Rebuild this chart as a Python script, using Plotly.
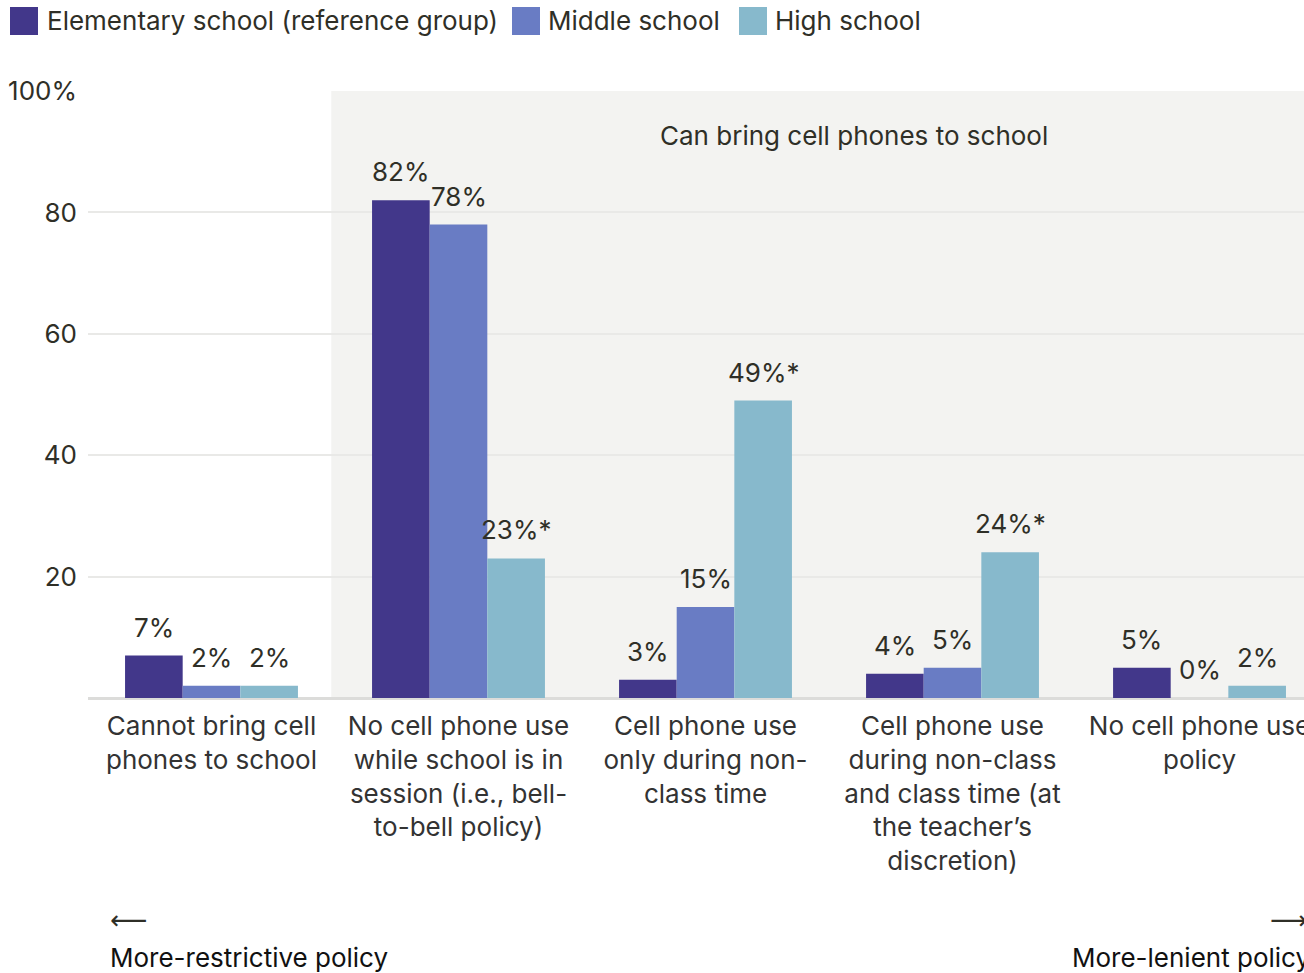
import plotly.graph_objects as go

categories = [
    "Cannot bring cell<br>phones to school",
    "No cell phone use<br>while school is in<br>session (i.e., bell-<br>to-bell policy)",
    "Cell phone use<br>only during non-<br>class time",
    "Cell phone use<br>during non-class<br>and class time (at<br>the teacher’s<br>discretion)",
    "No cell phone use<br>policy",
]
series_names = ["Elementary school (reference group)", "Middle school", "High school"]
elementary = [7, 82, 3, 4, 5]
middle = [2, 78, 15, 5, 0]
high = [2, 23, 49, 24, 2]
elementary_labels = ["7%", "82%", "3%", "4%", "5%"]
middle_labels = ["2%", "78%", "15%", "5%", "0%"]
high_labels = ["2%", "23%*", "49%*", "24%*", "2%"]
colors = ["#42378a", "#697cc4", "#87b9cc"]

FONT = "Inter, Roboto, sans-serif"
TXT = "#2f2f27"
FS = 26

# layout helpers (pixel -> paper)
L, R, T, B, W, H = 88, 0, 91, 275, 1304, 973
PW, PH = W - L - R, H - T - B
def px(xp):
    return (xp - L) / PW
def py(yp):
    return (H - B - yp) / PH

BARGAP = 0.3
nser = 3
bw = (1 - BARGAP) / nser

fig = go.Figure()
xs = list(range(len(categories)))
all_vals = [elementary, middle, high]
all_labs = [elementary_labels, middle_labels, high_labels]
for i, (name, vals, labs, col) in enumerate(zip(series_names, all_vals, all_labs, colors)):
    fig.add_trace(go.Bar(
        x=xs, y=vals, name=name, marker=dict(color=col, line=dict(width=0)),
        showlegend=False, hoverinfo="skip",
    ))
    off = (i - (nser - 1) / 2) * bw
    for xv, v, lab in zip(xs, vals, labs):
        fig.add_annotation(x=xv + off, y=v, xref="x", yref="y", text=lab,
                           showarrow=False, yanchor="bottom", yshift=11,
                           font=dict(size=FS, color=TXT, family=FONT))

# manual legend
leg_sq = [10, 512, 739]
leg_tx = [45, 546, 773]
for name, col, sx, tx in zip(series_names, colors, leg_sq, leg_tx):
    fig.add_shape(type="rect", xref="paper", yref="paper",
                  x0=px(sx), x1=px(sx + 28), y0=py(35), y1=py(7),
                  fillcolor=col, line=dict(width=0))
    fig.add_annotation(x=px(tx), y=py(21), xref="paper", yref="paper", text=name,
                       xanchor="left", yanchor="middle", showarrow=False,
                       font=dict(size=FS, color=TXT, family=FONT))

fig.add_shape(type="rect", xref="x", yref="y", x0=0.485, x1=5, y0=0, y1=100,
              fillcolor="#f3f3f1", line=dict(width=0), layer="below")

fig.add_annotation(x=2.6, y=92.6, xref="x", yref="y", text="Can bring cell phones to school",
                   showarrow=False, font=dict(size=FS, color=TXT, family=FONT))

fig.add_annotation(x=px(108), y=py(920), xref="paper", yref="paper", xanchor="left", yanchor="middle",
                   text="⟵", showarrow=False, font=dict(size=26, color=TXT, family="DejaVu Sans"))
fig.add_annotation(x=px(108), y=py(957), xref="paper", yref="paper", xanchor="left", yanchor="middle",
                   text="More-restrictive policy", showarrow=False,
                   font=dict(size=FS, color="#111111", family=FONT))
fig.add_annotation(x=px(1268), y=py(920), xref="paper", yref="paper", xanchor="left", yanchor="middle",
                   text="⟶", showarrow=False, font=dict(size=26, color=TXT, family="DejaVu Sans"))
fig.add_annotation(x=px(1070), y=py(957), xref="paper", yref="paper", xanchor="left", yanchor="middle",
                   text="More-lenient policy", showarrow=False,
                   font=dict(size=FS, color="#111111", family=FONT))

fig.update_layout(
    width=W, height=H,
    margin=dict(l=L, r=R, t=T, b=B, autoexpand=False),
    plot_bgcolor="white", paper_bgcolor="white",
    barmode="group", bargap=BARGAP, bargroupgap=0,
    font=dict(family=FONT, color=TXT, size=FS),
    showlegend=False, hovermode=False,
    xaxis=dict(tickmode="array", tickvals=xs, ticktext=categories, range=[-0.5, 4.423],
               showgrid=False, zeroline=False, showline=False, ticks="",
               automargin=False,
               ticklabeloverflow="allow", ticklabelstandoff=10,
               tickfont=dict(size=FS, color="#333333")),
    yaxis=dict(range=[0, 100], tickvals=[20, 40, 60, 80, 100],
               ticktext=["20", "40", "60", "80", "100%"],
               automargin=False,
               showgrid=True, gridcolor="#e9e9e7", gridwidth=2,
               zeroline=True, zerolinecolor="#dcdcda", zerolinewidth=3,
               showline=False, ticks="", ticklabelstandoff=10,
               tickfont=dict(size=FS, color=TXT)),
)

fig.write_html("out.html", config={"displayModeBar": False},
               post_script="document.body.style.margin='0';document.body.style.overflow='hidden';")
